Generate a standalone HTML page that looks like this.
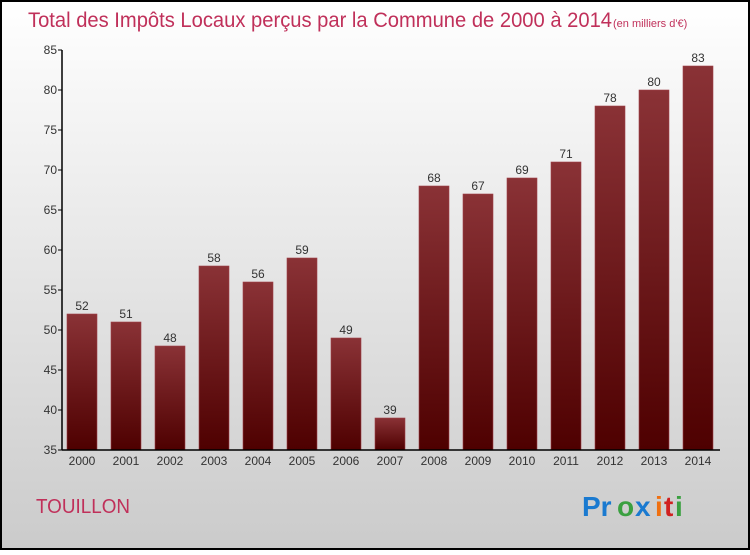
<!DOCTYPE html>
<html><head><meta charset="utf-8"><style>
html,body{margin:0;padding:0}
body{width:750px;height:550px;overflow:hidden;font-family:"Liberation Sans",sans-serif}
</style></head><body>
<svg id="chart" width="750" height="550" xmlns="http://www.w3.org/2000/svg">
<defs>
<linearGradient id="bg" x1="0" y1="0" x2="0" y2="1"><stop offset="0" stop-color="#ffffff"/><stop offset="1" stop-color="#cbcbcb"/></linearGradient>
<linearGradient id="bar" x1="0" y1="0" x2="0" y2="1"><stop offset="0" stop-color="#8a3236"/><stop offset="1" stop-color="#4e0000"/></linearGradient>
</defs>
<rect x="1" y="1" width="748" height="548" fill="url(#bg)" stroke="#000" stroke-width="2"/>
<text x="28" y="27" font-size="21" fill="#c0305a" textLength="584" lengthAdjust="spacingAndGlyphs">Total des Impôts Locaux perçus par la Commune de 2000 à 2014</text>
<text x="613" y="27" font-size="11" fill="#c0305a">(en milliers d'€)</text>
<g id="bars"></g>
<g id="axes"></g>
<text x="36" y="513" font-size="20" fill="#c0305a" textLength="94" lengthAdjust="spacingAndGlyphs">TOUILLON</text>
<g font-size="28" font-weight="bold" font-family="'Liberation Sans',sans-serif">
<text x="582" y="516" fill="#1a7ad0">Pr</text><text x="617" y="516" fill="#3aa040">o</text><text x="635" y="516" fill="#1a7ad0">x</text><text x="655" y="516" fill="#f07010">i</text><text x="664" y="516" fill="#d02020">t</text><text x="675" y="516" fill="#3aa040">i</text>
</g>
</svg>
<script>
const categories=["2000","2001","2002","2003","2004","2005","2006","2007","2008","2009","2010","2011","2012","2013","2014"];
const values=[52,51,48,58,56,59,49,39,68,67,69,71,78,80,83];
const yTicks=[35,40,45,50,55,60,65,70,75,80,85];
const NS="http://www.w3.org/2000/svg";
const y0=450,y1=50,vmin=35,vmax=85,x0=62,step=44,bw=30;
function yS(v){return y0-(v-vmin)/(vmax-vmin)*(y0-y1);}
function xC(i){return x0+20+i*step;}
function mk(t,a,p){const e=document.createElementNS(NS,t);for(const k in a)e.setAttribute(k,a[k]);p.appendChild(e);return e;}
const bars=document.getElementById('bars'),axes=document.getElementById('axes');
values.forEach((v,i)=>{
 const r=mk('rect',{x:xC(i)-bw/2,y:yS(v),width:bw,height:y0-yS(v),fill:'url(#bar)',stroke:'#a04048','stroke-width':0.6},bars);
 
 
 const t=mk('text',{x:xC(i),y:yS(v)-4,'text-anchor':'middle','font-size':12,fill:'#333'},bars);
 t.textContent=v;
 
 
 const c=mk('text',{x:xC(i),y:465,'text-anchor':'middle','font-size':12,fill:'#333'},axes);
 c.textContent=categories[i];
 
 
});
const ya=mk('line',{x1:x0,y1:y1,x2:x0,y2:y0,stroke:'#000','stroke-width':1.5},axes);


const xa=mk('line',{x1:x0,y1:y0,x2:720,y2:y0,stroke:'#000','stroke-width':1.5},axes);


yTicks.forEach(v=>{
 mk('line',{x1:x0-4,y1:yS(v),x2:x0,y2:yS(v),stroke:'#000'},axes);
 const t=mk('text',{x:x0-5,y:yS(v)+4,'text-anchor':'end','font-size':12,fill:'#333'},axes);
 t.textContent=v;
 
 
});
</script>
</body></html>
